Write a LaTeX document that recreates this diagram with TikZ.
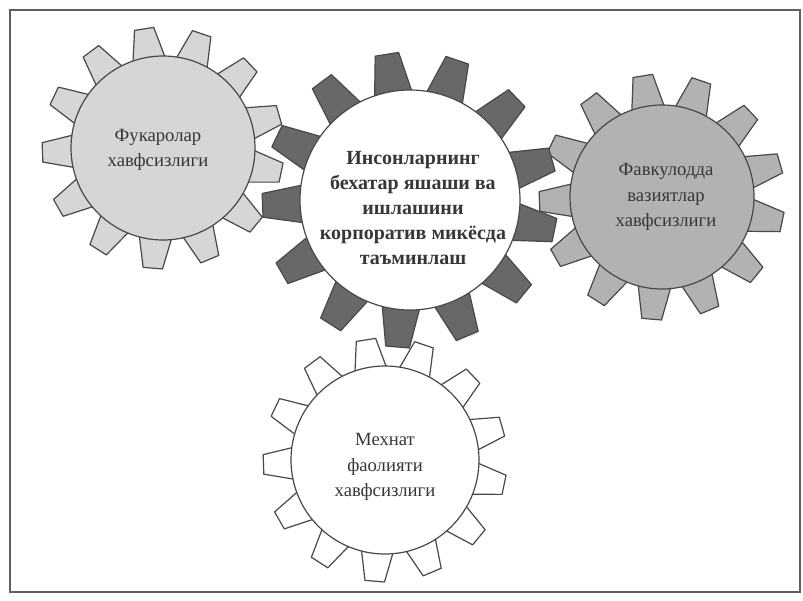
\documentclass[tikz,border=0pt]{standalone}
\usepackage{fontspec}
\setmainfont{Liberation Serif}
\usepackage{tikz}
\definecolor{civilgrey}{RGB}{214,214,214}
\definecolor{emerggrey}{RGB}{178,178,178}
\definecolor{coregrey}{RGB}{104,104,104}
\definecolor{gearline}{RGB}{72,72,72}
\definecolor{labelgrey}{RGB}{55,55,55}
\tikzset{every picture/.style={line width=0.75pt}}
\tikzset{
  frame/.style={draw={rgb, 255:red, 95; green, 95; blue, 95}, line width=1pt},
  tooth/.style={draw=gearline, line width=0.9pt, line join=round},
  gearbody/.style={circle, draw=gearline, line width=0.9pt, inner sep=0pt},
  gearlabel/.style={align=center, text=labelgrey, font=\fontsize{14}{19}\selectfont},
}

\begin{document}
\begin{tikzpicture}[x=0.75pt,y=0.75pt,yscale=-1,xscale=1]
\useasboundingbox (0,0) rectangle (803,600);

%Frame
\draw[frame] (10,10) rectangle (800,592);

%Gear: citizens
\begin{scope}[shift={(163,148)}]
\foreach \k in {0,...,12}
  \draw[tooth, fill=civilgrey] ({\k*27.692-99-13.5}:80) -- ({\k*27.692-99-4.6}:121) -- ({\k*27.692-99+4.6}:121) -- ({\k*27.692-99+13.5}:80) -- cycle;
\end{scope}
\node[gearbody, fill=civilgrey, minimum size=138pt] (civil) at (163,148) {};

%Gear: emergencies
\begin{scope}[shift={(662,197)}]
\foreach \k in {0,...,12}
  \draw[tooth, fill=emerggrey] ({\k*27.692-99-13.5}:80) -- ({\k*27.692-99-4.6}:123) -- ({\k*27.692-99+4.6}:123) -- ({\k*27.692-99+13.5}:80) -- cycle;
\end{scope}
\node[gearbody, fill=emerggrey, minimum size=138pt] (emerg) at (662,197) {};

%Gear: labour
\begin{scope}[shift={(385,460)}]
\foreach \k in {0,...,12}
  \draw[tooth, fill=white] ({\k*27.692-99-13.5}:80) -- ({\k*27.692-99-4.6}:122) -- ({\k*27.692-99+4.6}:122) -- ({\k*27.692-99+13.5}:80) -- cycle;
\end{scope}
\node[gearbody, fill=white, minimum size=141pt] (labour) at (385,460) {};

%Gear: core
\begin{scope}[shift={(410,200)}]
\foreach \k in {0,...,12}
  \draw[tooth, fill=coregrey] ({\k*27.692-99-13}:95) -- ({\k*27.692-99-4.6}:148) -- ({\k*27.692-99+4.6}:148) -- ({\k*27.692-99+13}:95) -- cycle;
\end{scope}
\node[gearbody, fill=white, minimum size=165pt] (core) at (410,200) {};

% Text Node
\node[gearlabel] (civil-text) at (158,150) {Фукаролар\\хавфсизлиги};
% Text Node
\node[gearlabel, font=\bfseries\fontsize{15}{18.7}\selectfont] (core-text) at (413,208) {Инсонларнинг\\бехатар яшаши ва\\ишлашини\\корпоратив микёсда\\таъминлаш};
% Text Node
\node[gearlabel] (emerg-text) at (666,197) {Фавкулодда\\вазиятлар\\хавфсизлиги};
% Text Node
\node[gearlabel] (labour-text) at (385,467) {Мехнат\\фаолияти\\хавфсизлиги};
\end{tikzpicture}
\end{document}
